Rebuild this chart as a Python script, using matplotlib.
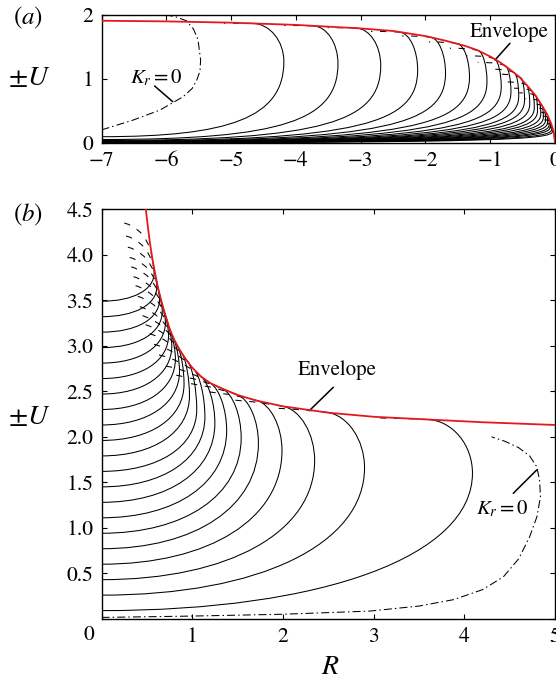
import matplotlib
matplotlib.use("Agg")
import matplotlib.pyplot as plt
import numpy as np
from matplotlib.path import Path
from matplotlib.patches import PathPatch

plt.rcParams["font.family"] = "STIXGeneral"
plt.rcParams["mathtext.fontset"] = "stix"
plt.rcParams["lines.scale_dashes"] = False

# ---------------- panel (a): R < 0 ----------------
ENV_A_R = [-7.0, -6.0, -5.0, -4.0, -3.0, -2.5, -2.0, -1.7, -1.4, -1.2, -1.0,
           -0.85, -0.7, -0.55, -0.4, -0.3, -0.2, -0.12, -0.06, -0.02, 0.0]
ENV_A_U = [1.91, 1.90, 1.88, 1.845, 1.79, 1.75, 1.67, 1.60, 1.52, 1.45, 1.35,
           1.26, 1.15, 1.03, 0.86, 0.74, 0.58, 0.44, 0.30, 0.17, 0.0]

# rightmost point of each curve, its tangent point on the envelope,
# and the height of the lower branch at the left edge (R = -7)
LOOP_A_RM = [-4.185, -3.35, -2.69, -2.12, -1.69, -1.32, -1.05, -0.83, -0.68, -0.56, -0.47,
             -0.39, -0.32, -0.27, -0.22, -0.18, -0.145, -0.115, -0.09, -0.07, -0.05, -0.035]
LOOP_A_UM = [1.27, 1.24, 1.21, 1.14, 1.09, 1.03, 0.96, 0.88, 0.80, 0.73, 0.67,
             0.61, 0.55, 0.50, 0.45, 0.40, 0.36, 0.32, 0.28, 0.25, 0.21, 0.18]
LOOP_A_RT = [-4.66, -3.73, -3.06, -2.39, -1.91, -1.50, -1.18, -0.93, -0.76, -0.62, -0.52,
             -0.43, -0.35, -0.295, -0.24, -0.195, -0.157, -0.124, -0.097, -0.075, -0.054, -0.038]
LOOP_A_UT = [1.868, 1.83, 1.795, 1.73, 1.65, 1.55, 1.44, 1.31, 1.20, 1.09, 1.01,
             0.894, 0.80, 0.73, 0.645, 0.57, 0.51, 0.447, 0.39, 0.335, 0.28, 0.23]
LOOP_A_UL = [0.094, 0.05, 0.035, 0.027, 0.022, 0.018, 0.015, 0.013, 0.011, 0.0095, 0.0085,
             0.0075, 0.0065, 0.006, 0.0055, 0.005, 0.0045, 0.004, 0.0035, 0.003, 0.0025, 0.002]

KR0_A_R = [-7.0, -6.51, -6.10, -5.74, -5.60, -5.53, -5.48, -5.47, -5.49, -5.51, -5.58, -5.69, -5.85, -6.0]
KR0_A_U = [0.20, 0.355, 0.51, 0.72, 0.85, 0.98, 1.12, 1.295, 1.45, 1.61, 1.78, 1.91, 1.97, 2.0]

# ---------------- panel (b): R > 0 ----------------
ENV_B_R = [0.48, 0.50, 0.53, 0.56, 0.59, 0.62, 0.66, 0.70, 0.75, 0.80, 0.86, 0.93,
           1.00, 1.10, 1.20, 1.33, 1.50, 1.70, 2.00, 2.50, 3.00, 3.60, 4.20, 5.00]
ENV_B_U = [4.58, 4.40, 4.16, 3.96, 3.80, 3.65, 3.49, 3.35, 3.19, 3.07, 2.96, 2.85,
           2.76, 2.66, 2.59, 2.53, 2.46, 2.40, 2.335, 2.265, 2.22, 2.19, 2.16, 2.13]

LOOP_B_U0 = [0.09, 0.26, 0.43, 0.60, 0.77, 0.94, 1.11, 1.28, 1.45, 1.62, 1.79,
             1.96, 2.13, 2.30, 2.47, 2.64, 2.81, 2.98, 3.15, 3.32, 3.49]
LOOP_B_RM = [4.09, 2.90, 2.35, 1.99, 1.73, 1.54, 1.38, 1.25, 1.14, 1.05, 0.97,
             0.91, 0.86, 0.815, 0.775, 0.74, 0.705, 0.67, 0.64, 0.61, 0.58]
LOOP_B_UM = [1.60, 1.66, 1.74, 1.85, 1.93, 1.99, 2.07, 2.15, 2.22, 2.30, 2.45,
             2.58, 2.72, 2.86, 3.00, 3.12, 3.26, 3.38, 3.51, 3.65, 3.80]
LOOP_B_RT = [3.60, 2.48, 2.00, 1.71, 1.50, 1.33, 1.20, 1.10, 1.02, 0.95, 0.89,
             0.84, 0.795, 0.755, 0.72, 0.69, 0.66, 0.635, 0.61, 0.585, 0.56]
LOOP_B_UT = [2.19, 2.27, 2.335, 2.40, 2.46, 2.53, 2.59, 2.66, 2.74, 2.83, 2.91,
             2.995, 3.08, 3.18, 3.29, 3.385, 3.49, 3.59, 3.70, 3.82, 3.96]

KR0_B_R = [0.0, 1.0, 2.0, 2.96, 3.50, 3.88, 4.20, 4.43, 4.60, 4.72, 4.80, 4.84, 4.83, 4.80, 4.72, 4.60, 4.45, 4.30]
KR0_B_U = [0.015, 0.03, 0.05, 0.085, 0.14, 0.21, 0.32, 0.46, 0.66, 0.90, 1.12, 1.34, 1.52, 1.67, 1.79, 1.88, 1.95, 2.0]

RED = "#e3191c"
LW = 0.75
CONT_DASH = (0, (4.5, 5.5, 4.5, 5.5, 4.5, 5.5, 4.5, 500))
DASHDOT = (0, (5.8, 2.2, 1.1, 2.2))


def slope_at(r, env_r, env_u):
    g = np.gradient(np.asarray(env_u), np.asarray(env_r))
    return float(np.interp(r, env_r, g))


def upper_branch(rm, um, rt, ut, s, k=0.552):
    uc = max(ut + s * (rm - rt), um + 0.3 * (ut - um))
    return [(rm, um + k * (uc - um)), (rt + k * (rm - rt), ut + k * (uc - ut)), (rt, ut)]


def continuation(ax, rt, ut, s, lc, le):
    """short dashed continuation of a curve past its tangent point"""
    d = np.array([-1.0, -s]) / np.hypot(1.0, s)
    c = np.array([rt, ut]) + lc * d
    e = c + np.array([-le, 0.0])
    p = Path([(rt, ut), tuple(c), tuple(e)], [Path.MOVETO, Path.CURVE3, Path.CURVE3])
    ax.add_patch(PathPatch(p, fill=False, lw=LW, color="k", linestyle=CONT_DASH))


def draw_path(ax, verts, codes):
    ax.add_patch(PathPatch(Path(verts, codes), fill=False, lw=LW, color="k"))


def pointer(ax, start, end):
    ax.annotate("", xy=end, xytext=start,
                arrowprops=dict(arrowstyle="-", lw=1.1, color="k", shrinkA=0, shrinkB=0))


def style_axes(ax):
    ax.tick_params(direction="in", top=True, right=True, length=3.6, width=0.8,
                   labelsize=15.5, pad=6)
    for sp in ax.spines.values():
        sp.set_linewidth(1.0)


fig = plt.figure(figsize=(5.56, 6.81), dpi=100)
W, H = 556.0, 681.0
ax_a = fig.add_axes([101.5 / W, 1 - 142.7 / H, 453.5 / W, 127.7 / H])
ax_b = fig.add_axes([101.5 / W, 1 - 618.8 / H, 453.5 / W, 409.5 / H])

# ---- panel (a) ----
C4 = [Path.CURVE4] * 3
for rm, um, rt, ut, ul in zip(LOOP_A_RM, LOOP_A_UM, LOOP_A_RT, LOOP_A_UT, LOOP_A_UL):
    s = slope_at(rt, ENV_A_R, ENV_A_U)
    verts = [(-7.0, ul), (rm - 0.85, ul), (rm, um - 0.75 * (um - ul)), (rm, um)]
    verts += upper_branch(rm, um, rt, ut, s)
    draw_path(ax_a, verts, [Path.MOVETO] + C4 + C4)
    size = min(0.22, 0.6 * (ut - um))
    continuation(ax_a, rt, ut, s, 0.45 * size, 1.6 * size)

ax_a.plot(KR0_A_R, KR0_A_U, color="k", lw=LW, linestyle=DASHDOT)
ax_a.plot(ENV_A_R, ENV_A_U, color=RED, lw=1.3, zorder=5)

ax_a.text(-0.71, 1.73, "Envelope", fontsize=15, ha="center", va="center")
pointer(ax_a, (-0.695, 1.557), (-0.926, 1.295))
ax_a.text(-6.146, 1.013, r"$K_r = 0$", fontsize=15, ha="center", va="center")
pointer(ax_a, (-6.18, 0.888), (-5.90, 0.642))

ax_a.set_xlim(-7, 0)
ax_a.set_ylim(0, 2)
ax_a.set_xticks(np.arange(-7, 1, 1))
ax_a.set_yticks([0, 1, 2])
style_axes(ax_a)

# ---- panel (b) ----
for u0, rm, um, rt, ut in zip(LOOP_B_U0, LOOP_B_RM, LOOP_B_UM, LOOP_B_RT, LOOP_B_UT):
    s = slope_at(rt, ENV_B_R, ENV_B_U)
    verts = [(0.0, u0), (0.6 * rm, u0), (rm, um - 0.6 * (um - u0)), (rm, um)]
    verts += upper_branch(rm, um, rt, ut, s)
    draw_path(ax_b, verts, [Path.MOVETO] + C4 + C4)
    continuation(ax_b, rt, ut, s, 0.42, 0.42)

ax_b.plot(KR0_B_R, KR0_B_U, color="k", lw=LW, linestyle=DASHDOT)
ax_b.plot(ENV_B_R, ENV_B_U, color=RED, lw=1.3, zorder=5)

ax_b.text(2.602, 2.734, "Envelope", fontsize=15, ha="center", va="center")
pointer(ax_b, (2.556, 2.544), (2.291, 2.287))
ax_b.text(4.421, 1.207, r"$K_r = 0$", fontsize=15, ha="center", va="center")
pointer(ax_b, (4.540, 1.379), (4.798, 1.635))

ax_b.set_xlim(0, 5)
ax_b.set_ylim(0, 4.5)
ax_b.set_xticks(np.arange(0, 6, 1))
ax_b.set_xticklabels(["", "1", "2", "3", "4", "5"])
ax_b.set_yticks(np.arange(0, 4.51, 0.5))
ax_b.set_yticklabels([""] + [f"{v:.1f}" for v in np.arange(0.5, 4.51, 0.5)])
style_axes(ax_b)

fig.text(89 / W, 1 - 635 / H, "0", ha="center", va="center", fontsize=15.5)
fig.text(29 / W, 1 - 78 / H, r"$\pm U$", ha="center", va="center", fontsize=20)
fig.text(29 / W, 1 - 417 / H, r"$\pm U$", ha="center", va="center", fontsize=20)
fig.text(330 / W, 1 - 667 / H, r"$R$", ha="center", va="center", fontsize=20)
fig.text(28 / W, 1 - 18 / H, r"$(a)$", ha="center", va="center", fontsize=18)
fig.text(28 / W, 1 - 215 / H, r"$(b)$", ha="center", va="center", fontsize=18)

fig.savefig("out.png", dpi=100)
